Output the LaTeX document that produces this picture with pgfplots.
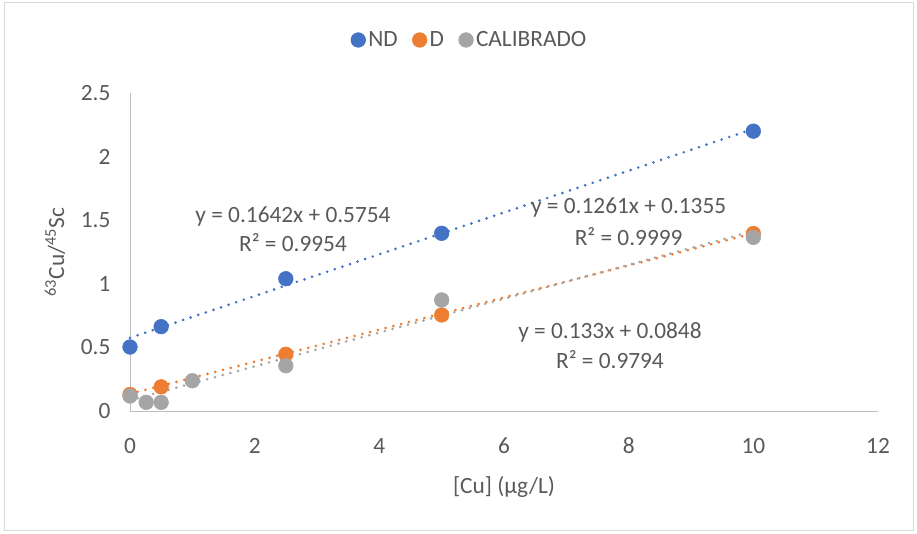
\documentclass[border=0pt]{standalone}
\usepackage{pgfplots}
\pgfplotsset{compat=1.18}
\usepackage{fontspec}
\setmainfont{Carlito}
\definecolor{ndblue}{HTML}{4472C4}
\definecolor{dorange}{HTML}{ED7D31}
\definecolor{calgray}{HTML}{A5A5A5}
\definecolor{txt}{HTML}{595959}
\definecolor{axl}{HTML}{BFBFBF}
\definecolor{brd}{HTML}{D9D9D9}
\newcommand{\tf}{\fontsize{17.5}{21}\selectfont}
\begin{document}
\begin{tikzpicture}
\useasboundingbox (0pt,0pt) rectangle (687.75pt,399.75pt);
\draw[brd, line width=0.75pt] (3pt,2.25pt) rectangle (684.75pt,397.5pt);
\begin{axis}[
  at={(97.5pt,91.5pt)}, anchor=south west, scale only axis,
  width=561pt, height=238.5pt,
  xmin=0, xmax=12, ymin=0, ymax=2.5,
  axis lines*=left,
  axis line style={axl, line width=0.75pt},
  xtick={0,2,...,12}, ytick={0,0.5,...,2.5},
  major tick length=0pt,
  /pgf/number format/assume math mode=true,
  tick label style={font=\tf, text=txt},
  xticklabel style={anchor=base, yshift=-31.9pt},
  yticklabel style={anchor=east, xshift=-11.2pt},
  xlabel={[Cu] (µg/L)},
  ylabel={\textsuperscript{63}Cu/\textsuperscript{45}Sc},
  label style={font=\tf, text=txt},
  xlabel style={at={(axis description cs:0.5,-0.239)}, anchor=center},
  ylabel style={at={(axis description cs:-0.1003,0.5)}, anchor=center},
  clip=false,
  legend columns=3,
  legend style={at={(axis description cs:0.4545,1.1667)}, anchor=center, draw=none, fill=none,
    font=\tf, text=txt,
    /tikz/every even column/.append style={column sep=9pt}},
  legend image code/.code={\draw[#1] plot coordinates {(0.12cm,0cm)};},
]
% trendlines
\addplot[dorange, line width=2.2pt, dash pattern=on 0pt off 6pt, line cap=round, forget plot] coordinates {(0,0.1355) (10,1.3965)};
\addplot[calgray, line width=2.2pt, dash pattern=on 0pt off 6pt, line cap=round, forget plot] coordinates {(0,0.0848) (10,1.4148)};
\addplot[ndblue, line width=2.2pt, dash pattern=on 0pt off 6pt, line cap=round, forget plot] coordinates {(0,0.5754) (10,2.2174)};
% data
\addplot[only marks, mark=*, mark size=5.5pt, color=ndblue] coordinates {(0,0.503) (0.5,0.663) (2.5,1.04) (5,1.397) (10,2.2)};
\addlegendentry{ND}
\addplot[only marks, mark=*, mark size=5.5pt, color=dorange] coordinates {(0,0.13) (0.5,0.19) (2.5,0.446) (5,0.755) (10,1.395)};
\addlegendentry{D}
\addplot[only marks, mark=*, mark size=5.5pt, color=calgray] coordinates {(0,0.118) (0.26,0.068) (0.5,0.068) (1,0.238) (2.5,0.356) (5,0.873) (10,1.365)};
\addlegendentry{CALIBRADO}
% equation labels
\node[text=txt, font=\tf] at (axis cs:2.615,1.533) {y = 0.1642x + 0.5754};
\node[text=txt, font=\tf] at (axis cs:2.615,1.321) {R² = 0.9954};
\node[text=txt, font=\tf] at (axis cs:8.0,1.596) {y = 0.1261x + 0.1355};
\node[text=txt, font=\tf] at (axis cs:8.0,1.368) {R² = 0.9999};
\node[text=txt, font=\tf] at (axis cs:7.70,0.621) {y = 0.133x + 0.0848};
\node[text=txt, font=\tf] at (axis cs:7.70,0.401) {R² = 0.9794};
\end{axis}
\end{tikzpicture}
\end{document}
